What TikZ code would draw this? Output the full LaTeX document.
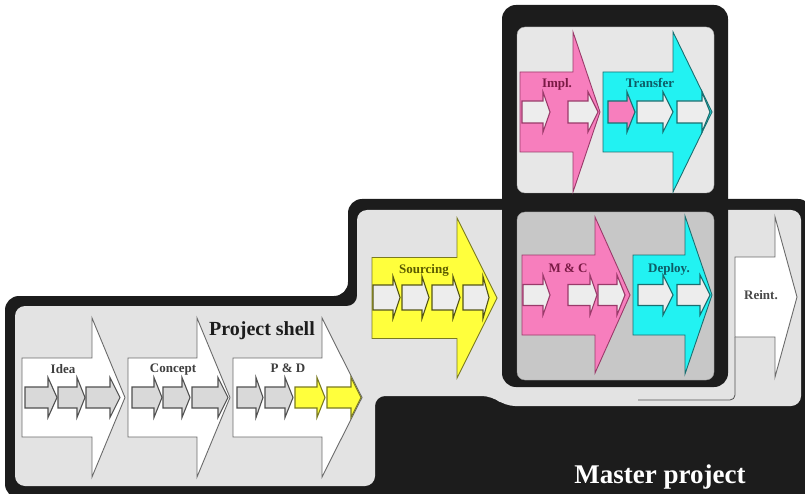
\documentclass[tikz,border=0pt]{standalone}
\usepackage{fontspec}
\setmainfont{Liberation Serif}
\definecolor{blackc}{HTML}{1C1C1C}
\definecolor{lightbg}{HTML}{E3E3E3}
\definecolor{projtop}{HTML}{E7E7E7}
\definecolor{projbot}{HTML}{C7C7C7}
\definecolor{pinkc}{HTML}{F77EBD}
\definecolor{pinkline}{HTML}{9A3A6A}
\definecolor{pinktext}{HTML}{7A1A45}
\definecolor{cyanc}{HTML}{22F2F2}
\definecolor{cyanline}{HTML}{1A6E70}
\definecolor{cyantext}{HTML}{0D5C66}
\definecolor{yellowc}{HTML}{FFFF3C}
\definecolor{yelline}{HTML}{7A7A20}
\definecolor{yeltext}{HTML}{5A5A00}
\definecolor{subgray}{HTML}{D9D9D9}
\definecolor{subwhite}{HTML}{EDEDED}
\definecolor{subline}{HTML}{505050}
\definecolor{shellline}{HTML}{6A6A6A}
\newcommand{\phasearrow}[7]{\filldraw[#1] (#2,#5-#6) -- (#3,#5-#6) -- (#3,#5-#7) -- (#4,#5) -- (#3,#5+#7) -- (#3,#5+#6) -- (#2,#5+#6) -- cycle;}
\begin{document}
\begin{tikzpicture}[x=1pt,y=-1pt,
  shellarrow/.style={fill=white, draw=shellline, line width=0.9pt},
  subgraystyle/.style={fill=subgray, draw=subline, line width=1.1pt},
  subyelstyle/.style={fill=yellowc, draw=yelline, line width=1.1pt},
  srcarrow/.style={fill=yellowc, draw=yelline, line width=0.9pt},
  srcsub/.style={fill=subwhite, draw=yelline!70!black, line width=1.1pt},
  pinkarrow/.style={fill=pinkc, draw=pinkline, line width=0.9pt},
  pinksub/.style={fill=subwhite, draw=pinkline, line width=1.1pt},
  cyanarrow/.style={fill=cyanc, draw=cyanline, line width=0.9pt},
  cyansub/.style={fill=subwhite, draw=cyanline, line width=1.1pt},
  cyanpinksub/.style={fill=pinkc, draw=cyanline, line width=1.1pt},
  lab/.style={font=\fontsize{13}{13}\selectfont\bfseries, inner sep=0pt, anchor=base},
  biglab/.style={font=\fontsize{20}{20}\selectfont\bfseries, inner sep=0pt, anchor=base, text=blackc}
]
\useasboundingbox (0,0) rectangle (805,494);
% master project outline
\fill[blackc, rounded corners=14] (5,296) -- (348,296) -- (348,199) -- (812,199) -- (812,498) -- (5,498) -- cycle;
\fill[lightbg, rounded corners=10] (15,306) -- (357,306) -- (357,210) -- (801,210) -- (801,406) -- (505,406) -- (492,396) -- (375,396) -- (375,486) -- (15,486) -- cycle;
% thin line near Reint
\draw[subline, line width=0.8pt, rounded corners=5] (638,400) -- (735,400) -- (735,337);
% project box
\fill[blackc, rounded corners=14] (502,5) rectangle (728,387);
\filldraw[fill=projtop, draw=gray!70, line width=0.4pt, rounded corners=8] (517,27) rectangle (714,193);
\filldraw[fill=projbot, draw=gray!80, line width=0.4pt, rounded corners=8] (517,212) rectangle (714,380);

% Project shell arrows
\phasearrow{shellarrow}{22}{92}{125}{397.5}{39.5}{79.5}
\phasearrow{shellarrow}{128}{197}{230}{397.5}{39.5}{79.5}
\phasearrow{shellarrow}{233}{322}{362}{397.5}{39.5}{79.5}
% sub arrows
\phasearrow{subgraystyle}{25}{48}{57}{397.5}{10.5}{20}
\phasearrow{subgraystyle}{58}{77}{85}{397.5}{10.5}{20}
\phasearrow{subgraystyle}{86}{110}{120}{397.5}{10.5}{20}
\phasearrow{subgraystyle}{132}{154}{162}{397.5}{10.5}{20}
\phasearrow{subgraystyle}{163}{182}{190}{397.5}{10.5}{20}
\phasearrow{subgraystyle}{192}{218}{228}{397.5}{10.5}{20}
\phasearrow{subgraystyle}{237}{256}{263}{397.5}{10.5}{20}
\phasearrow{subgraystyle}{265}{285}{293}{397.5}{10.5}{20}
\phasearrow{subyelstyle}{295}{317}{325}{397.5}{10.5}{20}
\phasearrow{subyelstyle}{327}{351}{361}{397.5}{10.5}{20}

% Sourcing
\phasearrow{srcarrow}{372}{457}{497}{298}{40.5}{80}
\phasearrow{srcsub}{373}{393}{400}{297.5}{12.5}{21}
\phasearrow{srcsub}{402}{422}{429}{297.5}{12.5}{21}
\phasearrow{srcsub}{432}{453}{460}{297.5}{12.5}{21}
\phasearrow{srcsub}{463}{483}{489}{297.5}{12.5}{21}

% Impl.
\phasearrow{pinkarrow}{520}{573}{600}{112}{40}{80}
\phasearrow{pinksub}{522}{543}{550}{112}{11}{20}
\phasearrow{pinksub}{568}{588}{598}{112}{11}{20}
% Transfer
\phasearrow{cyanarrow}{603}{673}{712}{112}{40}{80}
\phasearrow{cyanpinksub}{608}{627}{635}{112}{11}{20}
\phasearrow{cyansub}{637}{663}{673}{112}{11}{20}
\phasearrow{cyansub}{677}{702}{710}{112}{11}{20}
% M & C
\phasearrow{pinkarrow}{522}{595}{630}{295}{40}{78}
\phasearrow{pinksub}{523}{543}{550}{295}{10.5}{20}
\phasearrow{pinksub}{568}{590}{597}{295}{10.5}{20}
\phasearrow{pinksub}{598}{617}{625}{295}{10.5}{20}
% Deploy.
\phasearrow{cyanarrow}{633}{685}{712}{295}{40}{79}
\phasearrow{cyansub}{638}{663}{673}{295}{10.5}{20}
\phasearrow{cyansub}{677}{700}{710}{295}{10.5}{20}
% Reint.
\phasearrow{shellarrow}{735}{775}{797}{297}{40}{80}

% labels
\node[lab, text=blackc!85] (idea) at (63,373) {Idea};
\node[lab, text=blackc!85] (concept) at (173,372) {Concept};
\node[lab, text=blackc!85] (pd) at (288,372) {P \& D};
\node[biglab] (shell) at (262,335) {Project shell};
\node[lab, text=yeltext] (sourcing) at (424,273) {Sourcing};
\node[lab, text=pinktext] (impl) at (557,88) {Impl.};
\node[lab, text=cyantext] (transfer) at (650,88) {Transfer};
\node[lab, text=pinktext] (mc) at (568,272) {M \& C};
\node[lab, text=cyantext] (deploy) at (669,272) {Deploy.};
\node[lab, text=blackc!80] (reint) at (761,299) {Reint.};
\node[font=\fontsize{16}{16}\selectfont\bfseries, inner sep=0pt, anchor=base, text=blackc] (project) at (617,207) {Project};
\node[font=\fontsize{27}{27}\selectfont\bfseries, inner sep=0pt, anchor=base, text=white] (master) at (660,483) {Master project};
\end{tikzpicture}
\end{document}
